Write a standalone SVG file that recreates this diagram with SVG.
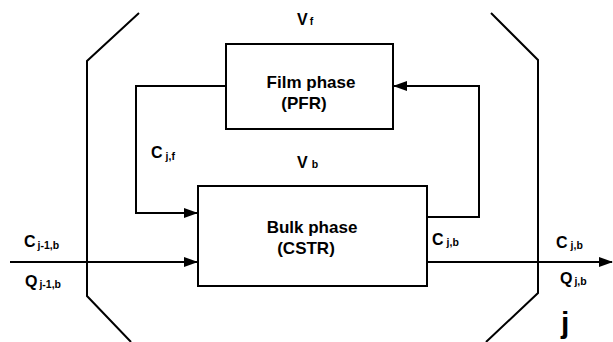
<svg xmlns="http://www.w3.org/2000/svg" width="613" height="342" viewBox="0 0 613 342">
<style>
.ln{fill:none;stroke:#000;stroke-width:2}
.bx{fill:#fff;stroke:#000;stroke-width:2}
.t{font-family:"Liberation Sans",Arial,sans-serif;font-weight:bold;fill:#000}
.big{font-size:17px}
.lab{font-size:16px}
.sub{font-size:10.5px}
</style>
<defs>
<marker id="ah" markerWidth="14" markerHeight="10" refX="13" refY="5" orient="auto" markerUnits="userSpaceOnUse">
<path d="M0,0 L14,5 L0,10 Z" fill="#000"/>
</marker>
</defs>
<g id="stage-boundary">
<polyline class="ln" points="139,13 87,61 87,296 131,342"/>
<polyline class="ln" points="491,13 538,60 538,293 486,342"/>
</g>
<g id="connectors">
<polyline class="ln" points="226,86 136,86 136,213 197,213" marker-end="url(#ah)"/>
<polyline class="ln" points="427,217 479,217 479,86 394,86" marker-end="url(#ah)"/>
<line class="ln" x1="10" y1="262" x2="197" y2="262" marker-end="url(#ah)"/>
<line class="ln" x1="427" y1="262" x2="612" y2="262" marker-end="url(#ah)"/>
</g>
<g id="film-phase">
<rect class="bx" x="226" y="44" width="167" height="85"/>
<text class="t big" x="311" y="88" text-anchor="middle">Film phase</text>
<text class="t big" x="304" y="109" text-anchor="middle">(PFR)</text>
</g>
<g id="bulk-phase">
<rect class="bx" x="198" y="186" width="229" height="100"/>
<text class="t big" x="312" y="233" text-anchor="middle">Bulk phase</text>
<text class="t big" x="306" y="254" text-anchor="middle">(CSTR)</text>
</g>
<g id="labels">
<text class="t lab" x="297" y="25">V<tspan class="sub" dx="2">f</tspan></text>
<text class="t lab" x="297" y="168">V<tspan class="sub" dx="4">b</tspan></text>
<text class="t lab" x="151" y="158">C<tspan class="sub" dx="3" dy="2">j,f</tspan></text>
<text class="t lab" x="24" y="247">C<tspan class="sub" dx="2" dy="2">j-1,b</tspan></text>
<text class="t lab" x="25" y="287">Q<tspan class="sub" dx="2" dy="1">j-1,b</tspan></text>
<text class="t lab" x="432" y="245">C<tspan class="sub" dx="3" dy="1">j,b</tspan></text>
<text class="t lab" x="556" y="248">C<tspan class="sub" dx="3" dy="1">j,b</tspan></text>
<text class="t lab" x="560" y="284">Q<tspan class="sub" dx="2" dy="1">j,b</tspan></text>
<text class="t" x="561" y="333" font-size="30">j</text>
</g>
</svg>
